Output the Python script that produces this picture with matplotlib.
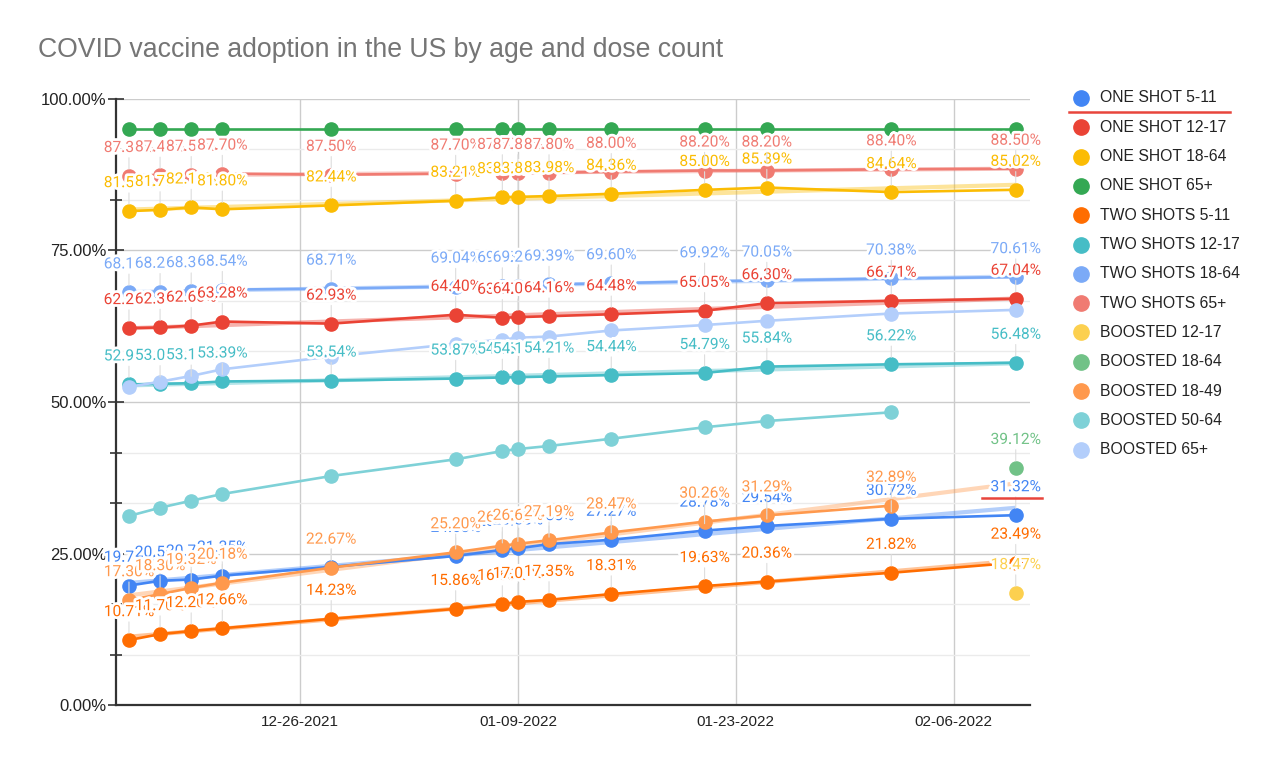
import numpy as np
import pandas as pd
import matplotlib
matplotlib.use("Agg")
import matplotlib.pyplot as plt
import matplotlib.patheffects as pe
from matplotlib.lines import Line2D
from matplotlib.ticker import FixedLocator

nan = np.nan

dates = ['2021-12-15', '2021-12-17', '2021-12-19', '2021-12-21', '2021-12-28',
         '2022-01-05', '2022-01-08', '2022-01-09', '2022-01-11', '2022-01-15',
         '2022-01-21', '2022-01-25', '2022-02-02', '2022-02-10']

one_shot_5_11 = [19.70, 20.50, 20.70, 21.35, 22.80, 24.60, 25.60, 25.85, 26.55, 27.27, 28.78, 29.54, 30.72, 31.32]
one_shot_12_17 = [62.20, 62.30, 62.60, 63.28, 62.93, 64.40, 63.90, 64.00, 64.16, 64.48, 65.05, 66.30, 66.71, 67.04]
one_shot_18_64 = [81.50, 81.70, 82.10, 81.80, 82.44, 83.21, 83.80, 83.85, 83.98, 84.36, 85.00, 85.39, 84.64, 85.02]
one_shot_65 = [95.0, 95.0, 95.0, 95.0, 95.0, 95.0, 95.0, 95.0, 95.0, 95.0, 95.0, 95.0, 95.0, 95.0]
two_shots_5_11 = [10.71, 11.70, 12.20, 12.66, 14.23, 15.86, 16.68, 17.01, 17.35, 18.31, 19.63, 20.36, 21.82, 23.49]
two_shots_12_17 = [52.90, 53.00, 53.10, 53.39, 53.54, 53.87, 54.05, 54.10, 54.21, 54.44, 54.79, 55.84, 56.22, 56.48]
two_shots_18_64 = [68.10, 68.20, 68.30, 68.54, 68.71, 69.04, 69.15, 69.20, 69.39, 69.60, 69.92, 70.05, 70.38, 70.61]
two_shots_65 = [87.30, 87.40, 87.50, 87.70, 87.50, 87.70, 87.80, 87.80, 87.80, 88.00, 88.20, 88.20, 88.40, 88.50]
boosted_12_17 = [nan, nan, nan, nan, nan, nan, nan, nan, nan, nan, nan, nan, nan, 18.47]
boosted_18_64 = [nan, nan, nan, nan, nan, nan, nan, nan, nan, nan, nan, nan, nan, 39.12]
boosted_18_49 = [17.30, 18.30, 19.32, 20.18, 22.67, 25.20, 26.30, 26.60, 27.19, 28.47, 30.26, 31.29, 32.89, nan]
boosted_50_64 = [31.19, 32.56, 33.71, 34.82, 37.79, 40.54, 41.91, 42.24, 42.74, 43.94, 45.83, 46.86, 48.30, nan]
boosted_65 = [52.50, 53.35, 54.30, 55.40, 57.50, 59.60, 60.30, 60.60, 60.80, 61.80, 62.70, 63.40, 64.60, 65.20]

series_names = ['ONE SHOT 5-11', 'ONE SHOT 12-17', 'ONE SHOT 18-64', 'ONE SHOT 65+',
                'TWO SHOTS 5-11', 'TWO SHOTS 12-17', 'TWO SHOTS 18-64', 'TWO SHOTS 65+',
                'BOOSTED 12-17', 'BOOSTED 18-64', 'BOOSTED 18-49', 'BOOSTED 50-64', 'BOOSTED 65+']
series_values = [one_shot_5_11, one_shot_12_17, one_shot_18_64, one_shot_65,
                 two_shots_5_11, two_shots_12_17, two_shots_18_64, two_shots_65,
                 boosted_12_17, boosted_18_64, boosted_18_49, boosted_50_64, boosted_65]
colors = ['#4285F4', '#EA4335', '#FBBC04', '#34A853', '#FF6D01', '#46BDC6', '#7BAAF7',
          '#F07B72', '#FCD04F', '#71C287', '#FF994D', '#7ED1D7', '#B3CEFB']
labelled = ['ONE SHOT 5-11', 'ONE SHOT 12-17', 'ONE SHOT 18-64', 'TWO SHOTS 5-11',
            'TWO SHOTS 12-17', 'TWO SHOTS 18-64', 'TWO SHOTS 65+', 'BOOSTED 12-17',
            'BOOSTED 18-64', 'BOOSTED 18-49']
with_trend = ['ONE SHOT 5-11', 'ONE SHOT 12-17', 'ONE SHOT 18-64', 'TWO SHOTS 5-11',
              'TWO SHOTS 12-17', 'TWO SHOTS 18-64', 'TWO SHOTS 65+', 'BOOSTED 18-49']

x = pd.to_datetime(dates)
xnum = matplotlib.dates.date2num(x)

fig = plt.figure(figsize=(12.8, 7.68), dpi=100)
ax = fig.add_axes([116 / 1280, 1 - 705 / 768, 914 / 1280, 606 / 768])

# trendlines first, under the series
for name, vals, c in zip(series_names, series_values, colors):
    if name not in with_trend:
        continue
    v = np.array(vals, dtype=float)
    ok = ~np.isnan(v)
    k, b = np.polyfit(xnum[ok], v[ok], 1)
    ax.plot(x[[0, -1]], k * xnum[[0, -1]] + b, color=c, alpha=0.4, lw=3, zorder=1.5,
            solid_capstyle='butt')

for name, vals, c in zip(series_names, series_values, colors):
    ax.plot(x, vals, color=c, lw=1.9, marker='o', markersize=9.5, zorder=2)

halo = [pe.withStroke(linewidth=4, foreground='white')]
for name, vals, c in zip(series_names, series_values, colors):
    if name not in labelled:
        continue
    for xi, v in zip(x, vals):
        if np.isnan(v):
            continue
        ax.annotate('%.2f%%' % v, (xi, v), xytext=(0, 20.5), textcoords='offset points',
                    ha='center', va='center', fontsize=11.2, color=c, family='Roboto',
                    path_effects=halo, zorder=5,
                    arrowprops=dict(arrowstyle='-', color='#dddddd', lw=0.8,
                                    shrinkA=0, shrinkB=5))

ax.set_ylim(0, 100)
ax.set_xlim(pd.Timestamp('2021-12-14 04:00'), pd.Timestamp('2022-02-10 22:00'))

ax.set_yticks([0, 25, 50, 75, 100])
ax.set_yticklabels(['0.00%', '25.00%', '50.00%', '75.00%', '100.00%'],
                   family='Liberation Sans', fontsize=12, color='#222222')
minor = [m * 25 / 3 for m in range(13) if m % 3]
ax.yaxis.set_minor_locator(FixedLocator(minor))
ax.tick_params(axis='y', which='major', direction='inout', length=12, width=1.2,
               color='#333333', pad=1)
ax.tick_params(axis='y', which='minor', direction='inout', length=8, width=1.2,
               color='#333333')

xt = pd.to_datetime(['2021-12-26', '2022-01-09', '2022-01-23', '2022-02-06'])
ax.set_xticks(xt)
ax.set_xticklabels(['12-26-2021', '01-09-2022', '01-23-2022', '02-06-2022'],
                   family='Liberation Sans', fontsize=11, color='#222222')
ax.tick_params(axis='x', length=0, pad=7)

ax.grid(which='major', color='#cccccc', lw=1, zorder=0)
ax.grid(which='minor', axis='y', color='#ebebeb', lw=1, zorder=0)
ax.set_axisbelow(True)
for s in ['top', 'right']:
    ax.spines[s].set_visible(False)
for s in ['left', 'bottom']:
    ax.spines[s].set_color('#333333')
    ax.spines[s].set_linewidth(1.6)

fig.text(38 / 1280, 1 - 50 / 768, 'COVID vaccine adoption in the US by age and dose count',
         fontsize=19.2, color='#757575', va='center', family='Liberation Sans')

# legend on the right
for i, (name, c) in enumerate(zip(series_names, colors)):
    yy = 1 - (98 + i * 29.3) / 768
    fig.add_artist(Line2D([1081 / 1280], [yy], marker='o', markersize=11, color=c,
                          linestyle='none', transform=fig.transFigure))
    fig.text(1100 / 1280, yy, name, fontsize=11.3, color='#222222', va='center',
             family='Liberation Sans')

# red marks drawn on the screenshot
fig.add_artist(Line2D([1069 / 1280, 1230 / 1280], [1 - 112 / 768] * 2, color='#e8453c',
                      lw=1.8, transform=fig.transFigure))
fig.add_artist(Line2D([982 / 1280, 1042 / 1280], [1 - 498 / 768] * 2, color='#e8453c',
                      lw=1.8, transform=fig.transFigure))

fig.savefig('out.png', dpi=100)
